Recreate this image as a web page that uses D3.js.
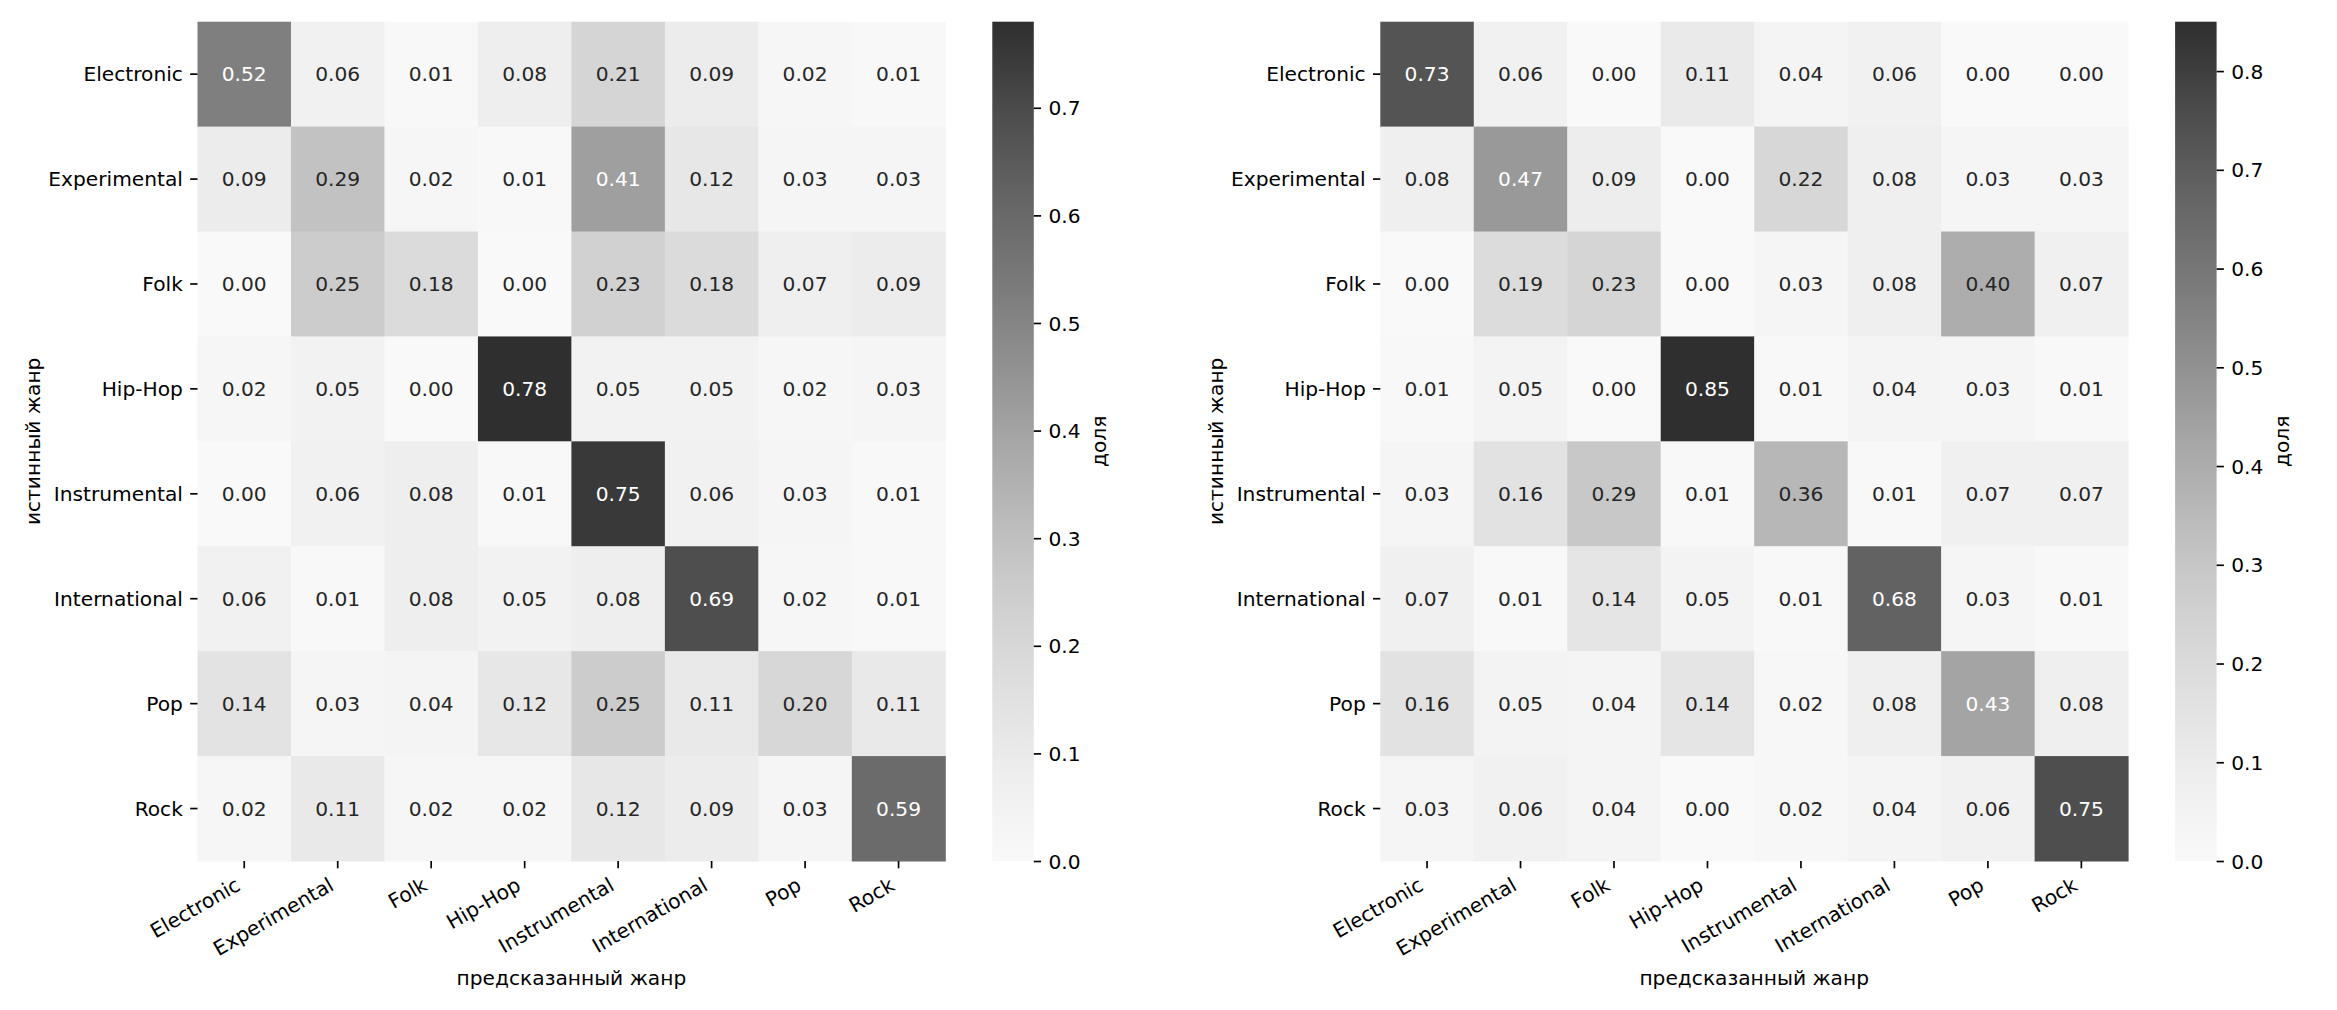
<!DOCTYPE html>
<html>
<head>
<meta charset="utf-8">
<script src="https://cdn.jsdelivr.net/npm/d3@7"></script>
<style>
  body { margin: 0; background: #fff; }
  text { font-family: "DejaVu Sans", sans-serif; }
</style>
</head>
<body>
<div id="container"></div>
<script>
var genres = ["Electronic", "Experimental", "Folk", "Hip-Hop", "Instrumental", "International", "Pop", "Rock"];

// rows = true genre, columns = predicted genre
var cmLeft = [
  [0.52, 0.06, 0.01, 0.08, 0.21, 0.09, 0.02, 0.01],
  [0.09, 0.29, 0.02, 0.01, 0.41, 0.12, 0.03, 0.03],
  [0.00, 0.25, 0.18, 0.00, 0.23, 0.18, 0.07, 0.09],
  [0.02, 0.05, 0.00, 0.78, 0.05, 0.05, 0.02, 0.03],
  [0.00, 0.06, 0.08, 0.01, 0.75, 0.06, 0.03, 0.01],
  [0.06, 0.01, 0.08, 0.05, 0.08, 0.69, 0.02, 0.01],
  [0.14, 0.03, 0.04, 0.12, 0.25, 0.11, 0.20, 0.11],
  [0.02, 0.11, 0.02, 0.02, 0.12, 0.09, 0.03, 0.59]
];
var cmRight = [
  [0.73, 0.06, 0.00, 0.11, 0.04, 0.06, 0.00, 0.00],
  [0.08, 0.47, 0.09, 0.00, 0.22, 0.08, 0.03, 0.03],
  [0.00, 0.19, 0.23, 0.00, 0.03, 0.08, 0.40, 0.07],
  [0.01, 0.05, 0.00, 0.85, 0.01, 0.04, 0.03, 0.01],
  [0.03, 0.16, 0.29, 0.01, 0.36, 0.01, 0.07, 0.07],
  [0.07, 0.01, 0.14, 0.05, 0.01, 0.68, 0.03, 0.01],
  [0.16, 0.05, 0.04, 0.14, 0.02, 0.08, 0.43, 0.08],
  [0.03, 0.06, 0.04, 0.00, 0.02, 0.04, 0.06, 0.75]
];
var cbTicksLeft = [0.0, 0.1, 0.2, 0.3, 0.4, 0.5, 0.6, 0.7];
var cbTicksRight = [0.0, 0.1, 0.2, 0.3, 0.4, 0.5, 0.6, 0.7, 0.8];

var xLabel = "предсказанный жанр";
var yLabel = "истинный жанр";
var cbLabel = "доля";

var W = 2337, H = 1010;
var fs = 20.2, tickLen = 7.3, tickPad = 7.3;
var mapTop = 21.7, mapBottom = 861, mapW = 747.8;

var svg = d3.select("#container").append("svg")
    .attr("width", W)
    .attr("height", H);

var defs = svg.append("defs");

function lum(c) {
  var rgb = d3.rgb(c);
  var f = function(v) { v = v / 255; return v <= 0.03928 ? v / 12.92 : Math.pow((v + 0.055) / 1.055, 2.4); };
  return 0.2126 * f(rgb.r) + 0.7152 * f(rgb.g) + 0.0722 * f(rgb.b);
}

function drawPanel(data, left, cbTicks, id) {
  var vmax = d3.max(data, function(r) { return d3.max(r); });
  var color = d3.scaleSequential(function(t) { return d3.interpolateGreys(0.05 + 0.8 * t); })
      .domain([0, vmax]);

  var x = d3.scaleBand().domain(genres).range([left, left + mapW]);
  var y = d3.scaleBand().domain(genres).range([mapTop, mapBottom]);

  var cells = [];
  data.forEach(function(row, i) {
    row.forEach(function(v, j) { cells.push({r: genres[i], c: genres[j], v: v}); });
  });

  var g = svg.append("g");
  g.selectAll("rect.cell")
    .data(cells)
    .enter().append("rect")
    .attr("class", "cell")
    .attr("x", function(d) { return x(d.c); })
    .attr("y", function(d) { return y(d.r); })
    .attr("width", x.bandwidth() + 0.5)
    .attr("height", y.bandwidth() + 0.5)
    .attr("fill", function(d) { return color(d.v); });

  g.selectAll("text.ann")
    .data(cells)
    .enter().append("text")
    .attr("class", "ann")
    .attr("x", function(d) { return x(d.c) + x.bandwidth() / 2; })
    .attr("y", function(d) { return y(d.r) + y.bandwidth() / 2; })
    .attr("text-anchor", "middle")
    .attr("dominant-baseline", "central")
    .attr("font-size", fs)
    .attr("fill", function(d) { return lum(color(d.v)) > 0.408 ? "#262626" : "#ffffff"; })
    .text(function(d) { return d.v.toFixed(2); });

  // y axis
  var ya = g.append("g")
    .attr("transform", "translate(" + left + ",0)")
    .call(d3.axisLeft(y).tickSize(tickLen).tickPadding(tickPad));
  ya.select(".domain").remove();
  ya.selectAll("line").attr("stroke", "#000").attr("stroke-width", 1.67);
  ya.selectAll("text").attr("font-size", fs).attr("fill", "#000")
    .attr("font-family", "DejaVu Sans").attr("dy", "0.35em");

  // x axis
  var xa = g.append("g")
    .attr("transform", "translate(0," + mapBottom + ")")
    .call(d3.axisBottom(x).tickSize(tickLen).tickPadding(tickPad));
  xa.select(".domain").remove();
  xa.selectAll("line").attr("stroke", "#000").attr("stroke-width", 1.67);
  xa.selectAll("text")
    .attr("font-size", fs).attr("fill", "#000").attr("font-family", "DejaVu Sans")
    .attr("text-anchor", "end")
    .attr("dy", null)
    .attr("y", null)
    .attr("transform", "translate(-2.5," + (tickLen + tickPad + 13.5) + ") rotate(-30)");

  svg.append("text")
    .attr("x", left + mapW / 2)
    .attr("y", 985)
    .attr("text-anchor", "middle")
    .attr("font-size", fs)
    .attr("fill", "#000")
    .text(xLabel);

  svg.append("text")
    .attr("transform", "translate(" + (left - 164.5) + "," + ((mapTop + mapBottom) / 2) + ") rotate(-90)")
    .attr("text-anchor", "middle")
    .attr("dominant-baseline", "central")
    .attr("font-size", fs)
    .attr("fill", "#000")
    .text(yLabel);

  // colorbar
  var cbX = left + mapW + 47, cbW = 41.5;
  var grad = defs.append("linearGradient")
    .attr("id", id)
    .attr("x1", 0).attr("y1", 1).attr("x2", 0).attr("y2", 0);
  d3.range(0, 1.0001, 0.05).forEach(function(t) {
    grad.append("stop").attr("offset", t).attr("stop-color", color(t * vmax));
  });
  svg.append("rect")
    .attr("x", cbX).attr("y", mapTop)
    .attr("width", cbW).attr("height", mapBottom - mapTop)
    .attr("fill", "url(#" + id + ")");

  var cy = d3.scaleLinear().domain([0, vmax]).range([mapBottom, mapTop]);
  var ca = svg.append("g")
    .attr("transform", "translate(" + (cbX + cbW) + ",0)")
    .call(d3.axisRight(cy).tickValues(cbTicks).tickFormat(d3.format(".1f")).tickSize(tickLen).tickPadding(tickPad));
  ca.select(".domain").remove();
  ca.selectAll("line").attr("stroke", "#000").attr("stroke-width", 1.67);
  ca.selectAll("text").attr("font-size", fs).attr("fill", "#000")
    .attr("font-family", "DejaVu Sans").attr("dy", "0.35em");

  svg.append("text")
    .attr("transform", "translate(" + (cbX + cbW + 65) + "," + ((mapTop + mapBottom) / 2) + ") rotate(-90)")
    .attr("text-anchor", "middle")
    .attr("dominant-baseline", "central")
    .attr("font-size", fs)
    .attr("fill", "#000")
    .text(cbLabel);
}

drawPanel(cmLeft, 197.5, cbTicksLeft, "gradLeft");
drawPanel(cmRight, 1380.3, cbTicksRight, "gradRight");
</script>
</body>
</html>
